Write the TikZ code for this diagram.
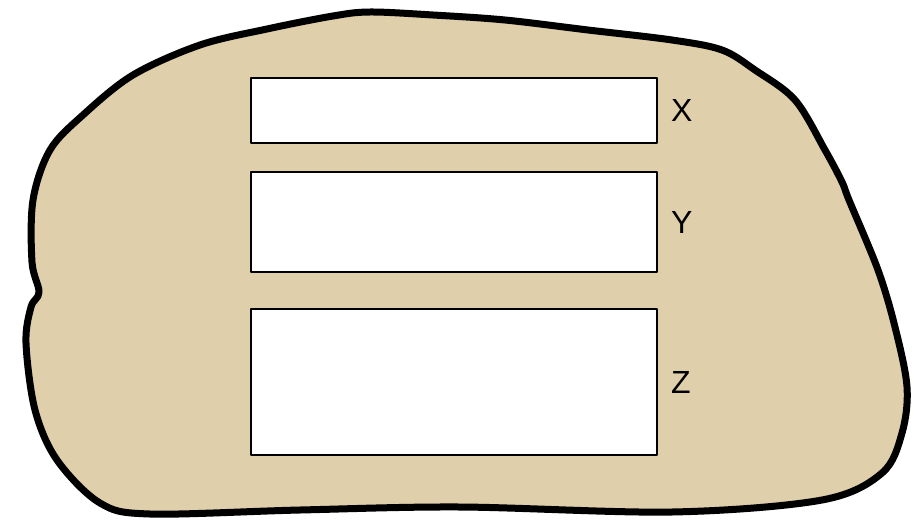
\documentclass[tikz,border=0pt]{standalone}
\usepackage{fontspec}
\setmainfont{Liberation Sans}
\usetikzlibrary{positioning}
\definecolor{sand}{HTML}{DFCFAA}

\begin{document}
\begin{tikzpicture}[x=1pt,y=-1pt,line cap=round,line join=round,
    field/.style={draw=black,fill=white,line width=2.2pt,minimum width=406pt,
                  inner sep=0pt,outer sep=0pt},
    tag/.style={inner sep=0pt,font=\fontsize{32}{32}\selectfont}]
  \useasboundingbox (0,0) rectangle (915,522);

  % the outer blob
  \draw[fill=sand,line width=7pt] plot[smooth cycle,tension=0.55] coordinates {
    (33,200) (50,150) (83,115) (133,75) (200,45) (267,29) (333,16) (370,12)
    (433,15) (505,20) (588,30) (672,40) (722,50) (755,70) (795,100) (825,150)
    (842,182) (849,200) (878,270) (895,327) (907,387) (902,433) (882,473)
    (822,500) (672,512) (460,507) (300,510) (150,514) (100,503) (57,460)
    (35,410) (26,343) (31,307) (39,292) (32,262)};

  \node[field,minimum height=65pt]  (xbox) at (454,110.5) {};
  \node[field,minimum height=100pt] (ybox) at (454,222) {};
  \node[field,minimum height=146pt] (zbox) at (454,382) {};

  \node[tag,right=14pt of xbox] (xlab) {X};
  \node[tag,right=14pt of ybox] (ylab) {Y};
  \node[tag,right=14pt of zbox] (zlab) {Z};
\end{tikzpicture}
\end{document}
